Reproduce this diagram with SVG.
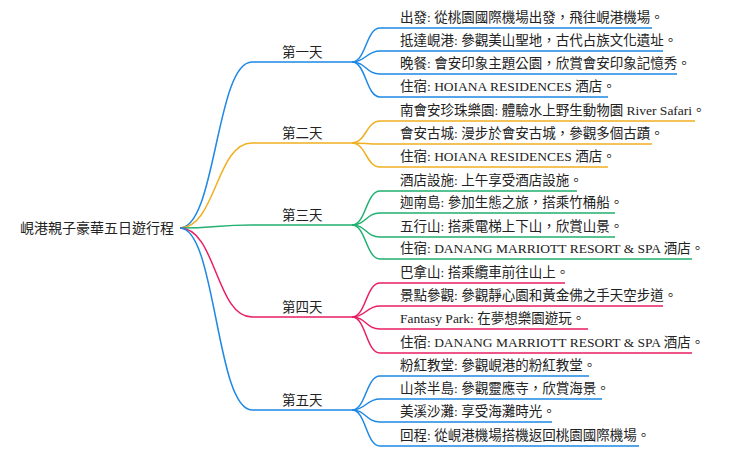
<svg xmlns="http://www.w3.org/2000/svg" width="740" height="454" viewBox="0 0 740 454">
<style>
text{font-family:"Liberation Serif","Noto Sans CJK TC",serif;font-size:13.5px;fill:#222}
.r{font-size:14px}
path{fill:none;stroke-width:1.5}
.b{stroke:#1e88e5}.o{stroke:#f0b020}.g{stroke:#20b070}.p{stroke:#e91e63}
</style>
<rect width="740" height="454" fill="#fff"/>
<g id="connectors">
<path class="b" d="M180 228 C216 228 216 62 252 62 H352"/>
<path class="o" d="M180 228 C216 228 216 143 252 143 H352"/>
<path class="g" d="M180 228 C216 228 216 225 252 225 H352"/>
<path class="p" d="M180 228 C216 228 216 317 252 317 H352"/>
<path class="b" d="M180 228 C216 228 216 410 252 410 H352"/>
<path class="b" d="M352 62 C366 62 366 28 380 28 H652"/>
<path class="b" d="M352 62 C366 62 366 51 380 51 H663"/>
<path class="b" d="M352 62 C366 62 366 74 380 74 H677"/>
<path class="b" d="M352 62 C366 62 366 97 380 97 H608"/>
<path class="o" d="M352 143 C366 143 366 121 380 121 H695"/>
<path class="o" d="M352 143 C366 143 366 144 380 144 H652"/>
<path class="o" d="M352 143 C366 143 366 167 380 167 H608"/>
<path class="g" d="M352 225 C366 225 366 191 380 191 H577"/>
<path class="g" d="M352 225 C366 225 366 213 380 213 H615"/>
<path class="g" d="M352 225 C366 225 366 237 380 237 H615"/>
<path class="g" d="M352 225 C366 225 366 259 380 259 H692"/>
<path class="p" d="M352 317 C366 317 366 283 380 283 H565"/>
<path class="p" d="M352 317 C366 317 366 306 380 306 H663"/>
<path class="p" d="M352 317 C366 317 366 329 380 329 H588"/>
<path class="p" d="M352 317 C366 317 366 353 380 353 H692"/>
<path class="b" d="M352 410 C366 410 366 376 380 376 H589"/>
<path class="b" d="M352 410 C366 410 366 399 380 399 H602"/>
<path class="b" d="M352 410 C366 410 366 422 380 422 H552"/>
<path class="b" d="M352 410 C366 410 366 446 380 446 H639"/>
</g>
<g id="root"><text class="r" x="20" y="233">峴港親子豪華五日遊行程</text></g>
<g id="d1"><text x="282" y="57">第一天</text></g>
<g id="d2"><text x="282" y="138">第二天</text></g>
<g id="d3"><text x="282" y="220">第三天</text></g>
<g id="d4"><text x="282" y="312">第四天</text></g>
<g id="d5"><text x="282" y="405">第五天</text></g>
<g id="l1"><text x="400" y="22">出發: 從桃園國際機場出發，飛往峴港機場。</text></g>
<g id="l2"><text x="400" y="45">抵達峴港: 參觀美山聖地，古代占族文化遺址。</text></g>
<g id="l3"><text x="400" y="68">晚餐: 會安印象主題公園，欣賞會安印象記憶秀。</text></g>
<g id="l4"><text x="400" y="91">住宿: HOIANA RESIDENCES 酒店。</text></g>
<g id="l5"><text x="400" y="115">南會安珍珠樂園: 體驗水上野生動物園 River Safari。</text></g>
<g id="l6"><text x="400" y="138">會安古城: 漫步於會安古城，參觀多個古蹟。</text></g>
<g id="l7"><text x="400" y="161">住宿: HOIANA RESIDENCES 酒店。</text></g>
<g id="l8"><text x="400" y="185">酒店設施: 上午享受酒店設施。</text></g>
<g id="l9"><text x="400" y="207">迦南島: 參加生態之旅，搭乘竹桶船。</text></g>
<g id="l10"><text x="400" y="231">五行山: 搭乘電梯上下山，欣賞山景。</text></g>
<g id="l11"><text x="400" y="253">住宿: DANANG MARRIOTT RESORT &amp; SPA 酒店。</text></g>
<g id="l12"><text x="400" y="277">巴拿山: 搭乘纜車前往山上。</text></g>
<g id="l13"><text x="400" y="300">景點參觀: 參觀靜心園和黃金佛之手天空步道。</text></g>
<g id="l14"><text x="400" y="323">Fantasy Park: 在夢想樂園遊玩。</text></g>
<g id="l15"><text x="400" y="347">住宿: DANANG MARRIOTT RESORT &amp; SPA 酒店。</text></g>
<g id="l16"><text x="400" y="370">粉紅教堂: 參觀峴港的粉紅教堂。</text></g>
<g id="l17"><text x="400" y="393">山茶半島: 參觀靈應寺，欣賞海景。</text></g>
<g id="l18"><text x="400" y="416">美溪沙灘: 享受海灘時光。</text></g>
<g id="l19"><text x="400" y="440">回程: 從峴港機場搭機返回桃園國際機場。</text></g>
</svg>
